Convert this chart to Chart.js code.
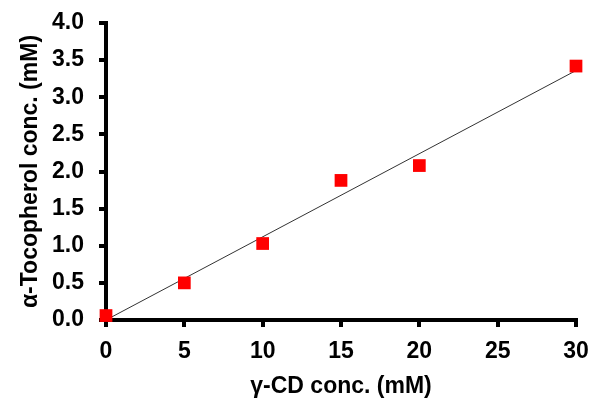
<!DOCTYPE html>
<html>
<head>
<meta charset="utf-8">
<script src="https://cdn.jsdelivr.net/npm/chart.js@4/dist/chart.umd.min.js"></script>
<style>
  html, body { margin: 0; padding: 0; background: #fff; }
  #wrap { width: 590px; height: 401px; }
</style>
</head>
<body>
<div id="wrap"><canvas id="chart" width="590" height="401"></canvas></div>
<script>
const cdConc = [0, 5, 10, 15, 20, 30];
const tocoConc = [0.06, 0.5, 1.03, 1.88, 2.08, 3.42];
// fitted trend line ends
const trendX = [0, 30];
const trendY = [0, 3.36];

const font = { family: 'Arial, "Liberation Sans", sans-serif', weight: 'bold' };

const ctx = document.getElementById('chart').getContext('2d');
new Chart(ctx, {
    type: 'scatter',
    data: {
        datasets: [
            {
                data: cdConc.map((x, i) => ({ x: x, y: tocoConc[i] })),
                backgroundColor: '#ff0000',
                borderColor: '#ff0000',
                pointStyle: 'rect',
                pointRadius: 9,
                pointBorderWidth: 0,
                clip: false,
                order: 0
            },
            {
                type: 'line',
                data: trendX.map((x, i) => ({ x: x, y: trendY[i] })),
                borderColor: '#333333',
                borderWidth: 1,
                pointRadius: 0,
                order: 1
            }
        ]
    },
    options: {
        responsive: false,
        animation: false,
        layout: { padding: { left: 0, top: 23, right: 14, bottom: 0 } },
        plugins: {
            legend: { display: false },
            tooltip: { enabled: false }
        },
        scales: {
            x: {
                type: 'linear',
                min: 0,
                max: 30,
                afterFit: scale => {
                    scale.height = 81;
                    scale.paddingLeft = 0;
                    scale.paddingRight = 0;
                },
                ticks: {
                    stepSize: 5,
                    color: '#000',
                    padding: 11,
                    font: { ...font, size: 23 }
                },
                grid: { drawOnChartArea: false, tickLength: 7, color: '#000', lineWidth: 4 },
                border: { color: '#000', width: 4 },
                title: {
                    display: true,
                    text: 'γ-CD conc. (mM)',
                    color: '#000',
                    padding: { top: 0, bottom: 1 },
                    font: { ...font, size: 23 }
                }
            },
            y: {
                min: 0,
                max: 4,
                afterFit: scale => {
                    scale.width = 106;
                    scale.paddingTop = 0;
                    scale.paddingBottom = 0;
                },
                ticks: {
                    stepSize: 0.5,
                    color: '#000',
                    padding: 15,
                    font: { ...font, size: 23 },
                    callback: v => v.toFixed(1)
                },
                grid: { drawOnChartArea: false, tickLength: 7, color: '#000', lineWidth: 4 },
                border: { color: '#000', width: 4 },
                title: {
                    display: true,
                    text: 'α-Tocopherol conc. (mM)',
                    color: '#000',
                    padding: { top: 17, bottom: 0 },
                    font: { ...font, size: 23 }
                }
            }
        }
    }
});
</script>
</body>
</html>
